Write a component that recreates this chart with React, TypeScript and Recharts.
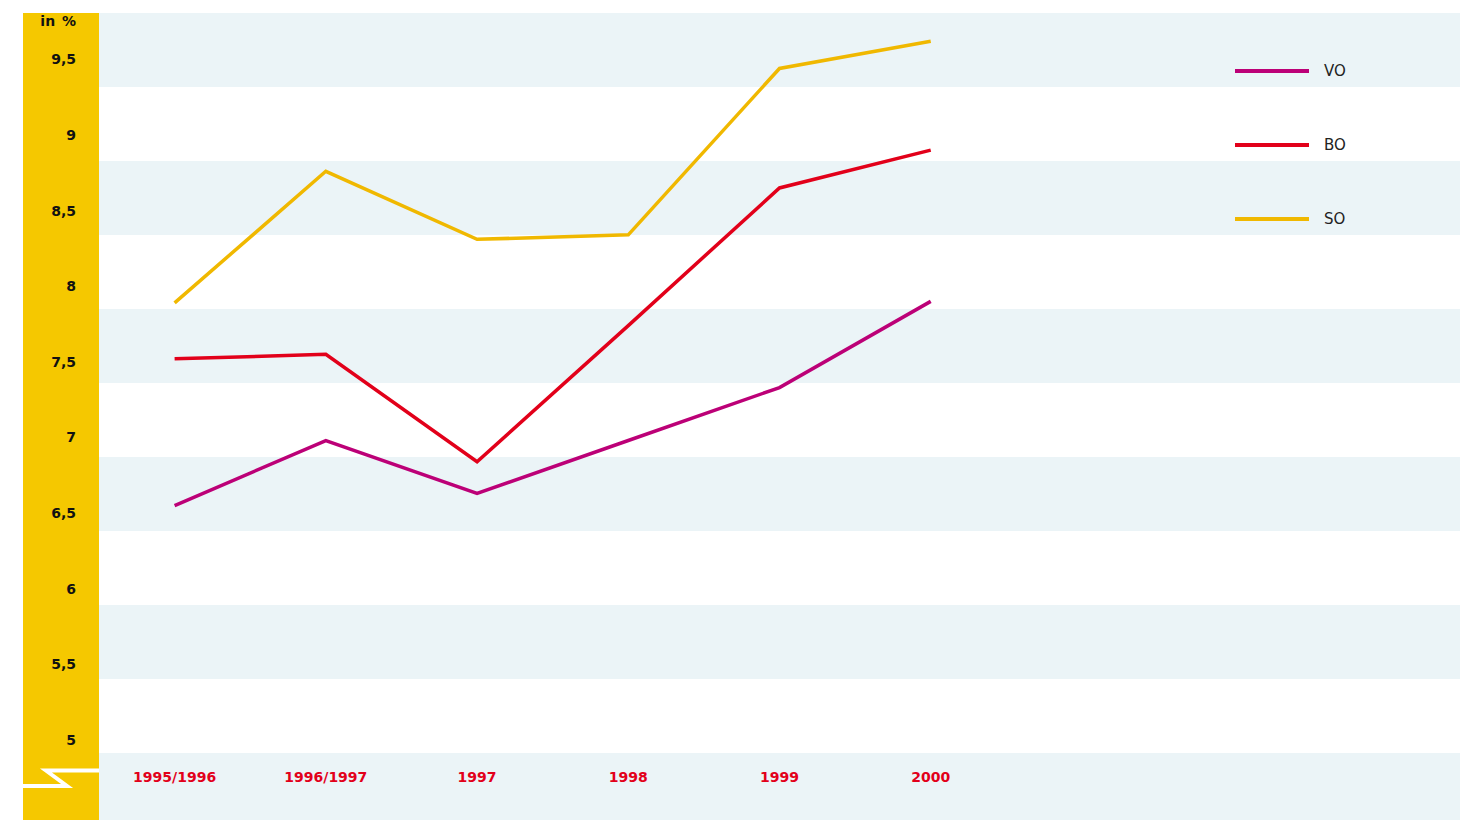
import { LineChart, Line, XAxis, YAxis } from 'recharts';

const years = ['1995/1996', '1996/1997', '1997', '1998', '1999', '2000'];
const vo = [6.55, 6.98, 6.63, 6.98, 7.33, 7.9];
const bo = [7.52, 7.55, 6.84, 7.74, 8.65, 8.9];
const so = [7.89, 8.76, 8.31, 8.34, 9.44, 9.62];
const yTicks = [5, 5.5, 6, 6.5, 7, 7.5, 8, 8.5, 9, 9.5];

const series = [
  { key: 'VO', color: '#BC0077' },
  { key: 'BO', color: '#E2001A' },
  { key: 'SO', color: '#F0B800' },
];

const data = years.map((y, i) => ({ x: i, name: y, VO: vo[i], BO: bo[i], SO: so[i] }));

const FONT = '"DejaVu Sans", sans-serif';
const bands = [13, 161, 309, 457, 605, 753];

function LegendBox() {
  return (
    <div style={{ position: 'absolute', left: 1235, top: 34, fontFamily: FONT, fontSize: 15, color: '#222' }}>
      {series.map((s) => (
        <div key={s.key} style={{ display: 'flex', alignItems: 'center', height: 74 }}>
          <div style={{ width: 74, height: 4, background: s.color, marginRight: 15 }} />
          <span>{s.key}</span>
        </div>
      ))}
    </div>
  );
}

export default function App() {
  return (
    <div style={{ position: 'absolute', left: 0, top: 0, width: 1464, height: 820, background: '#fff', overflow: 'hidden' }}>
      {bands.map((t) => (
        <div key={t} style={{ position: 'absolute', left: 99, top: t, width: 1361, height: Math.min(74, 820 - t), background: '#EBF4F7' }} />
      ))}
      <div style={{ position: 'absolute', left: 23, top: 13, width: 76, height: 807, background: '#F5C800' }} />
      <svg style={{ position: 'absolute', left: 0, top: 0 }} width={1464} height={820}>
        <polyline points="99,770.5 46,770.5 67,786 23,786" fill="none" stroke="#fff" strokeWidth={4} />
      </svg>
      <div style={{ position: 'absolute', left: 23, top: 13, width: 53, textAlign: 'right', fontFamily: FONT, fontWeight: 'bold', fontSize: 14, color: '#111', wordSpacing: 2 }}>
        in %
      </div>
      <LegendBox />
      <div style={{ position: 'absolute', left: 0, top: 0 }}>
        <LineChart width={1464} height={820} data={data} margin={{ top: 14, right: 4, bottom: 0, left: 0 }}>
          <XAxis
            dataKey="x"
            type="number"
            domain={[-0.5, 8.5]}
            ticks={[0, 1, 2, 3, 4, 5]}
            tickFormatter={(v: number) => years[v] ?? ''}
            axisLine={false}
            tickLine={false}
            tickSize={0}
            tickMargin={32}
            height={80}
            tick={{ fill: '#E2001A', fontSize: 14, fontWeight: 'bold', fontFamily: FONT }}
          />
          <YAxis
            type="number"
            domain={[5, 9.8]}
            ticks={yTicks}
            tickFormatter={(v: number) => String(v).replace('.', ',')}
            axisLine={false}
            tickLine={false}
            tickSize={0}
            tickMargin={23}
            width={99}
            tick={{ fill: '#111', fontSize: 14, fontWeight: 'bold', fontFamily: FONT }}
          />
          {series.map((s) => (
            <Line
              key={s.key}
              dataKey={s.key}
              stroke={s.color}
              strokeWidth={3.5}
              dot={false}
              activeDot={false}
              isAnimationActive={false}
              strokeLinejoin="miter"
            />
          ))}
        </LineChart>
      </div>
    </div>
  );
}
